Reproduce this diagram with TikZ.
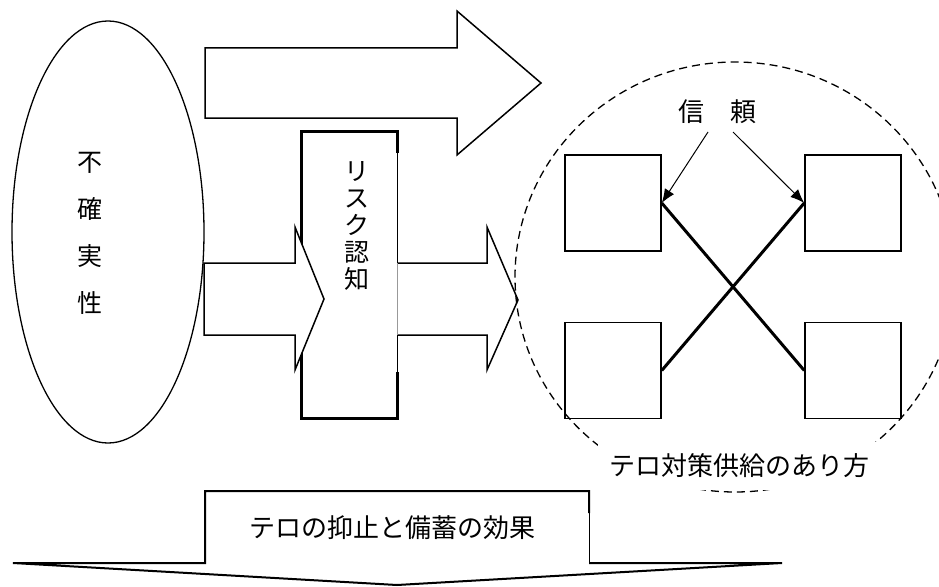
\documentclass[tikz,border=0pt]{standalone}
\usepackage{fontspec}
\newfontfamily\jp{Noto Sans CJK JP}
\usetikzlibrary{arrows.meta,shapes.geometric}
\begin{document}
\begin{tikzpicture}[x=1pt,y=-1pt,
  every node/.style={font=\jp\fontsize{26}{28}\selectfont, inner sep=0pt},
  outl/.style={draw=black, line width=1.5pt, fill=white, line join=miter},
  sqbox/.style={draw, line width=1.5pt, minimum width=96pt, minimum height=96pt},
  crossline/.style={line width=3pt},
  trustarrow/.style={line width=1pt, -{Latex[length=14pt,width=11pt]}},
  dashring/.style={line width=1.3pt, dash pattern=on 8pt off 5pt}]
\useasboundingbox (0,0) rectangle (939,586);
\fill[white] (0,0) rectangle (939,586);

% uncertainty ellipse
\node[ellipse, draw, line width=1.3pt, minimum width=192pt, minimum height=422pt] (unc) at (108,232) {};
\node[align=center, font=\jp\fontsize{25}{47}\selectfont] (unctext) at (90,233) {不\\確\\実\\性};

% top block arrow
\draw[outl] (205,48) -- (457,48) -- (457,11) -- (541,83) -- (457,155) -- (457,118) -- (205,118) -- cycle;

% risk perception box
\fill[white] (301,131) rectangle (397,418);
\draw[line width=3pt, line join=miter] (397,153) -- (397,131) -- (301,131) -- (301,418) -- (397,418) -- (397,372);

% left arrow into box
\draw[outl] (204,263) -- (295,263) -- (295,227) -- (324,299) -- (295,370) -- (295,335) -- (204,335) -- cycle;
\node[align=center, font=\jp\fontsize{25}{27}\selectfont] (risk) at (357,226) {リ\\ス\\ク\\認\\知};

% right arrow out of box
\fill[white] (397,263) -- (487,263) -- (487,227) -- (518,300) -- (487,370) -- (487,335) -- (397,335) -- cycle;
\draw[line width=1.5pt, line join=miter] (397,263) -- (487,263) -- (487,227) -- (518,300) -- (487,370) -- (487,335) -- (397,335);
\draw[line width=0.8pt] (397,153) -- (397,263);
\draw[line width=0.4pt, black!40] (397,263) -- (397,335);
\draw[line width=0.8pt] (397,335) -- (397,372);

% dashed circle
\draw[dashring] (735,277) ellipse [x radius=220pt, y radius=215pt];

% four squares
\node[sqbox] (sq1) at (613,203) {};
\node[sqbox] (sq2) at (853,203) {};
\node[sqbox] (sq3) at (613,370.5) {};
\node[sqbox] (sq4) at (853,370.5) {};

\draw[crossline] (sq1.east) -- (sq4.west);
\draw[crossline] (sq2.west) -- (sq3.east);

% trust
\node (trust) at (717,112) {信　頼};
\coordinate (t1) at (708,132);
\coordinate (t2) at (733,132);
\draw[trustarrow] (t1) -- (sq1.east);
\draw[trustarrow] (t2) -- (sq2.west);

% supply label
\node[fill=white, minimum width=282pt, minimum height=48pt] (supply) at (739,466) {テロ対策供給のあり方};

% bottom arrow
\fill[white] (205,491) -- (589,491) -- (589,563) -- (782,563) -- (397,585) -- (13,563) -- (205,563) -- cycle;
\draw[line width=2pt, line join=miter] (589,513) -- (589,491) -- (205,491) -- (205,563) -- (13,563) -- (397,585) -- (782,563) -- (589,563);
\draw[line width=0.6pt] (589,513) -- (589,563);
\node (effect) at (392,528) {テロの抑止と備蓄の効果};
\end{tikzpicture}
\end{document}
